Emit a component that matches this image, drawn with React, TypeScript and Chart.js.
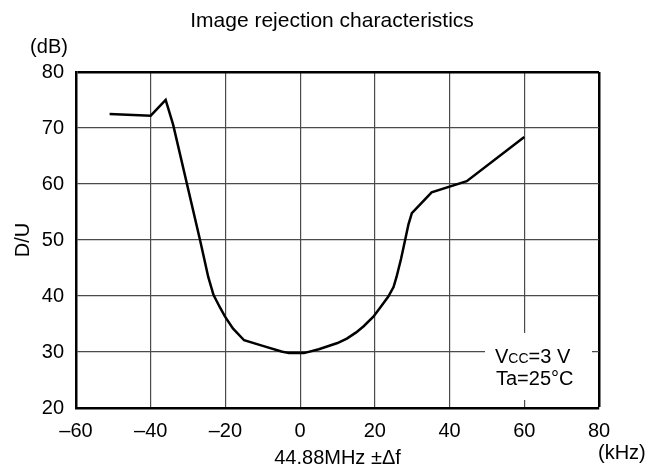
import React, { useEffect, useRef } from "react";
import { Chart, registerables } from "chart.js";

Chart.register(...registerables);

const FONT = '"Liberation Sans", Arial, Helvetica, sans-serif';

const chartTitle = "Image rejection characteristics";
const yUnit = "(dB)";
const xUnit = "(kHz)";
const yAxisTitle = "D/U";
const xAxisTitle = "44.88MHz \u00b1\u0394f";
const legendLine1 = ["V", "CC", "=3 V"];
const legendLine2 = "Ta=25\u00b0C";

const xRange = [-60, 80];
const yRange = [20, 80];
const xStep = 20;
const yStep = 10;

const freqKHz = [-51, -40, -36, -34, -26.8, -25.8, -24.6, -23.2, -21.5, -20.1, -18, -15, -10, -5, -3, 1, 5, 10, 12.5, 15, 17, 19.6, 21.5, 23.6, 25, 25.8, 27, 28.1, 29, 29.9, 35.2, 44.6, 60];
const duDB = [72.5, 72.2, 75, 70.6, 50, 47, 43.4, 40.2, 38, 36.3, 34.2, 32.1, 31.1, 30.1, 29.8, 29.8, 30.5, 31.6, 32.4, 33.5, 34.6, 36.3, 38, 39.9, 41.6, 43.4, 46.6, 50, 52.8, 54.8, 58.5, 60.5, 68.4];

const textPlugin = {
  id: "textPlugin",
  afterDraw(chart: any) {
    const ctx = chart.ctx;
    const area = chart.chartArea;
    ctx.save();
    ctx.fillStyle = "#000";
    ctx.textBaseline = "alphabetic";
    ctx.font = `21px ${FONT}`;
    ctx.textAlign = "center";
    ctx.fillText(chartTitle, chart.width / 2, 27);
    ctx.font = `20px ${FONT}`;
    ctx.fillText(yUnit, 49, 53);
    ctx.textAlign = "left";
    ctx.fillText(xUnit, area.right - 1, 459);
    const bx = area.right - 114;
    const by = area.bottom - 75;
    ctx.fillStyle = "#fff";
    ctx.fillRect(bx, by, 107, 67);
    ctx.fillStyle = "#000";
    let x = bx + 10;
    ctx.font = `20px ${FONT}`;
    ctx.fillText(legendLine1[0], x, by + 30);
    x += ctx.measureText(legendLine1[0]).width;
    ctx.font = `14px ${FONT}`;
    ctx.fillText(legendLine1[1], x, by + 30);
    x += ctx.measureText(legendLine1[1]).width;
    ctx.font = `20px ${FONT}`;
    ctx.fillText(legendLine1[2], x, by + 30);
    ctx.fillText(legendLine2, bx + 11, by + 52);
    ctx.restore();
  },
};

export default function App() {
  const ref = useRef<HTMLCanvasElement>(null);
  useEffect(() => {
    if (!ref.current) return;
    const data = freqKHz.map((f, i) => ({ x: f, y: duDB[i] }));
    const gridColor = (c: any, edges: number[]) =>
      c.tick && edges.includes(c.tick.value) ? "#000" : "#4a4a4a";
    const gridWidth = (c: any, edges: number[]) =>
      c.tick && edges.includes(c.tick.value) ? 2.5 : 1.2;
    const chart = new Chart(ref.current, {
      type: "line",
      data: {
        datasets: [
          {
            data,
            borderColor: "#000",
            borderWidth: 2.5,
            pointRadius: 0,
            tension: 0,
            fill: false,
          },
        ],
      },
      options: {
        animation: false,
        responsive: false,
        devicePixelRatio: 1,
        layout: { padding: { top: 72, right: 65, left: 0, bottom: 0 } },
        plugins: { legend: { display: false }, tooltip: { enabled: false }, title: { display: false } },
        scales: {
          x: {
            type: "linear",
            min: xRange[0],
            max: xRange[1],
            afterFit: (s: any) => {
              s.height = 60;
            },
            ticks: {
              stepSize: xStep,
              color: "#000",
              padding: 11,
              font: { family: FONT, size: 20 },
              callback: (v: any) => (Number(v) < 0 ? "\u2013" + Math.abs(Number(v)) : String(v)),
            },
            grid: {
              drawTicks: false,
              color: (c: any) => gridColor(c, [xRange[1]]),
              lineWidth: (c: any) => gridWidth(c, [xRange[1]]),
            },
            border: { display: true, color: "#000", width: 2.5 },
            title: {
              display: true,
              text: xAxisTitle,
              color: "#000",
              font: { family: FONT, size: 20, lineHeight: 1 },
              padding: 0,
            },
          },
          y: {
            type: "linear",
            min: yRange[0],
            max: yRange[1],
            afterFit: (s: any) => {
              s.width = 76;
            },
            ticks: {
              stepSize: yStep,
              color: "#000",
              padding: 12,
              font: { family: FONT, size: 20 },
            },
            grid: {
              drawTicks: false,
              color: (c: any) => gridColor(c, [yRange[1]]),
              lineWidth: (c: any) => gridWidth(c, [yRange[1]]),
            },
            border: { display: true, color: "#000", width: 2.5 },
            title: {
              display: true,
              text: yAxisTitle,
              color: "#000",
              font: { family: FONT, size: 20, lineHeight: 1 },
              padding: { top: 13, bottom: 0 },
            },
          },
        },
      },
      plugins: [textPlugin],
    });
    return () => chart.destroy();
  }, []);
  return (
    <div style={{ position: "absolute", left: 0, top: 0, width: 664, height: 468, background: "#fff" }}>
      <canvas ref={ref} width={664} height={468} style={{ width: 664, height: 468 }} />
    </div>
  );
}
